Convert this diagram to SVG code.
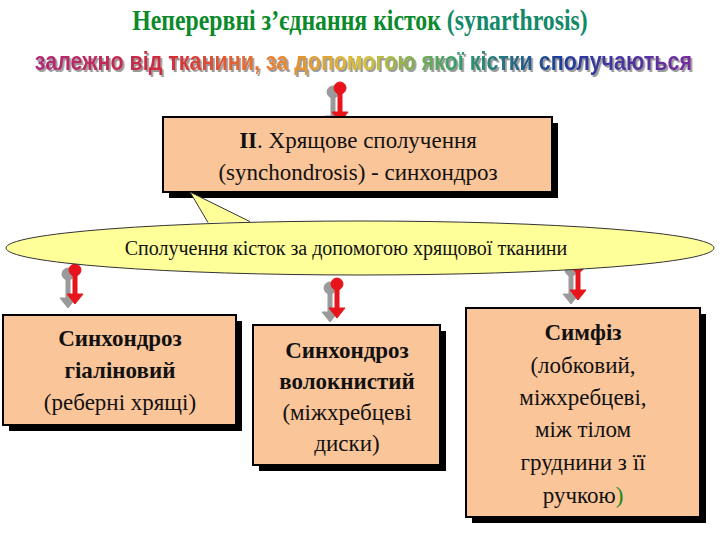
<svg xmlns="http://www.w3.org/2000/svg" width="720" height="540" viewBox="0 0 720 540">
<style>
.box{fill:#fbc59a;stroke:#000;stroke-width:2}
.sh{fill:#000}
.t{font-size:23px;text-anchor:middle;fill:#111}
.b{font-weight:bold}
.pin{fill:#e8141c;stroke:#e8141c}
.pinsh{fill:#9a9a9a;stroke:#9a9a9a}
</style>
<defs>
<linearGradient id="rb" x1="0" x2="1">
<stop offset="0" stop-color="#b0287a"/><stop offset="0.2" stop-color="#d12a3c"/><stop offset="0.35" stop-color="#e97c2d"/><stop offset="0.5" stop-color="#d8c236"/><stop offset="0.65" stop-color="#2e9c6c"/><stop offset="0.8" stop-color="#1d3d9c"/><stop offset="1" stop-color="#7a2aa0"/>
</linearGradient>
<filter id="ds" x="-5%" y="-20%" width="110%" height="150%"><feDropShadow dx="2" dy="2" stdDeviation="0.5" flood-color="#999"/></filter>
<g id="pin">
<g class="pinsh" transform="translate(-7,4)"><circle cx="0" cy="0" r="6"/><rect x="-2" y="0" width="4" height="26"/><polygon points="-8,24 8,24 0,34"/></g>
<g class="pin"><circle cx="0" cy="0" r="6"/><rect x="-2" y="0" width="4" height="26"/><polygon points="-8,24 8,24 0,34"/></g>
</g>
</defs>
<g id="title">
<text x="360" y="30" font-family="Liberation Serif, serif" font-weight="bold" font-size="29" text-anchor="middle" fill="#0a8a2a" transform="translate(360,0) scale(0.82,1) translate(-360,0)">Неперервні з’єднання кісток <tspan fill="#128a6a">(synarthrosis)</tspan></text>
<text x="364" y="70" font-family="Liberation Sans, sans-serif" font-weight="bold" font-size="25" text-anchor="middle" fill="url(#rb)" filter="url(#ds)" transform="translate(360,0) scale(0.86,1) translate(-360,0)">залежно від тканини, за допомогою якої кістки сполучаються</text>
</g>
<g id="connectors">
<use href="#pin" x="340" y="88"/>
<use href="#pin" x="75" y="270"/>
<use href="#pin" x="337" y="284"/>
<use href="#pin" x="578" y="266"/>
</g>
<g font-family="Liberation Serif, serif">
<g id="top">
<rect class="sh" x="169" y="123" width="389" height="75"/>
<rect class="box" x="163" y="117" width="389" height="75"/>
<text class="t" x="358" y="148"><tspan font-weight="bold">II</tspan>. Хрящове сполучення</text>
<text class="t" x="358" y="180">(synchondrosis) - синхондроз</text>
</g>
<g id="ellipse">
<ellipse cx="360" cy="248" rx="354" ry="27" fill="#ffff99" stroke="#333" stroke-width="1"/>
<polygon points="208,222.5 190,192 250,221.6" fill="#ffff99"/>
<polyline points="208,222.5 190,192 250,221.6" fill="none" stroke="#333" stroke-width="1"/>
<text x="346" y="255" font-size="20" text-anchor="middle" fill="#111">Сполучення кісток за допомогою хрящової тканини</text>
</g>
<g id="n1">
<rect class="sh" x="9" y="321" width="233" height="110"/>
<rect class="box" x="3" y="315" width="233" height="110"/>
<text class="t b" x="120" y="346">Синхондроз</text>
<text class="t b" x="120" y="378">гіаліновий</text>
<text class="t" x="120" y="410">(реберні хрящі)</text>
</g>
<g id="n2">
<rect class="sh" x="259" y="331" width="187" height="140"/>
<rect class="box" x="253" y="325" width="187" height="140"/>
<text class="t b" x="347" y="358">Синхондроз</text>
<text class="t b" x="347" y="389">волокнистий</text>
<text class="t" x="347" y="420">(міжхребцеві</text>
<text class="t" x="347" y="451">диски)</text>
</g>
<g id="n3">
<rect class="sh" x="472" y="314" width="234" height="209"/>
<rect class="box" x="466" y="308" width="234" height="209"/>
<text class="t b" x="583" y="340">Симфіз</text>
<text class="t" x="583" y="373">(лобковий,</text>
<text class="t" x="583" y="405">міжхребцеві,</text>
<text class="t" x="583" y="437">між тілом</text>
<text class="t" x="583" y="470">груднини з її</text>
<text class="t" x="583" y="503">ручкою<tspan fill="#1a8a1a">)</tspan></text>
</g>
</g>
</svg>
